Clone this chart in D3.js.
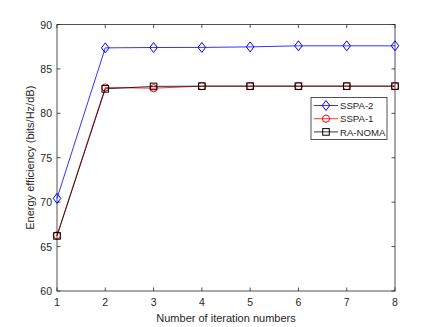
<!DOCTYPE html>
<html>
<head>
<meta charset="utf-8">
<script src="https://cdn.jsdelivr.net/npm/d3@7"></script>
<style>
  body { margin: 0; background: #fff; }
  text { font-family: "Liberation Sans", Arial, sans-serif; }
</style>
</head>
<body>
<svg id="chart" width="436" height="327"></svg>
<script>
// data
var iterations = [1, 2, 3, 4, 5, 6, 7, 8];
var sspa2 = [70.43, 87.37, 87.41, 87.42, 87.48, 87.6, 87.6, 87.6];
var sspa1 = [66.27, 82.91, 82.83, 83.06, 83.06, 83.06, 83.06, 83.06];
var raNoma = [66.2, 82.76, 83.03, 83.06, 83.06, 83.06, 83.06, 83.06];
var yTicks = [60, 65, 70, 75, 80, 85, 90];

var plotL = 57, plotR = 395, plotT = 24.5, plotB = 291;
var axisColor = "#262626";

var svg = d3.select("#chart");
var x = d3.scaleLinear().domain([1, 8]).range([plotL, plotR]);
var y = d3.scaleLinear().domain([60, 90]).range([plotB, plotT]);

// box
svg.append("rect")
  .attr("x", plotL).attr("y", plotT)
  .attr("width", plotR - plotL).attr("height", plotB - plotT)
  .attr("fill", "#fff").attr("stroke", axisColor).attr("stroke-width", 0.8);

// ticks inward, all four sides
var tl = 3.5;
function tickLines(data, f) {
  svg.selectAll(null).data(data).enter().append("line")
    .each(f).attr("stroke", axisColor).attr("stroke-width", 0.8);
}
tickLines(iterations, function(d) {
  d3.select(this).attr("x1", x(d)).attr("x2", x(d)).attr("y1", plotB).attr("y2", plotB - tl);
});
tickLines(iterations, function(d) {
  d3.select(this).attr("x1", x(d)).attr("x2", x(d)).attr("y1", plotT).attr("y2", plotT + tl);
});
tickLines(yTicks, function(d) {
  d3.select(this).attr("x1", plotL).attr("x2", plotL + tl).attr("y1", y(d)).attr("y2", y(d));
});
tickLines(yTicks, function(d) {
  d3.select(this).attr("x1", plotR).attr("x2", plotR - tl).attr("y1", y(d)).attr("y2", y(d));
});

// tick labels
svg.selectAll(".xl").data(iterations).enter().append("text")
  .attr("x", function(d) { return x(d); }).attr("y", plotB + 15)
  .attr("text-anchor", "middle").attr("font-size", 10.5).attr("fill", axisColor)
  .text(function(d) { return d; });
svg.selectAll(".yl").data(yTicks).enter().append("text")
  .attr("x", plotL - 5).attr("y", function(d) { return y(d) + 4; })
  .attr("text-anchor", "end").attr("font-size", 10.5).attr("fill", axisColor)
  .text(function(d) { return d; });

// axis titles
svg.append("text")
  .attr("x", (plotL + plotR) / 2).attr("y", 322)
  .attr("text-anchor", "middle").attr("font-size", 11).attr("fill", axisColor)
  .text("Number of iteration numbers");
svg.append("text")
  .attr("transform", "translate(34," + ((plotT + plotB) / 2) + ") rotate(-90)")
  .attr("text-anchor", "middle").attr("font-size", 11).attr("fill", axisColor)
  .text("Energy efficiency (bits/Hz/dB)");

var series = [
  { name: "SSPA-2", values: sspa2, color: "#0000ff", marker: "diamond" },
  { name: "SSPA-1", values: sspa1, color: "#ff0000", marker: "circle" },
  { name: "RA-NOMA", values: raNoma, color: "#000000", marker: "square" }
];

function drawMarker(g, type, cx, cy, color) {
  if (type == "diamond") {
    g.append("path").attr("d", "M" + cx + "," + (cy - 5) + "L" + (cx + 3.8) + "," + cy + "L" + cx + "," + (cy + 5) + "L" + (cx - 3.8) + "," + cy + "Z")
      .attr("fill", "none").attr("stroke", color).attr("stroke-width", 1);
  } else if (type == "circle") {
    g.append("circle").attr("cx", cx).attr("cy", cy).attr("r", 3.6)
      .attr("fill", "none").attr("stroke", color).attr("stroke-width", 1);
  } else {
    g.append("rect").attr("x", cx - 3.3).attr("y", cy - 3.3).attr("width", 6.6).attr("height", 6.6)
      .attr("fill", "none").attr("stroke", color).attr("stroke-width", 1);
  }
}

var line = d3.line().x(function(d, i) { return x(iterations[i]); }).y(function(d) { return y(d); });

series.forEach(function(s) {
  var g = svg.append("g");
  g.append("path").attr("d", line(s.values))
    .attr("fill", "none").attr("stroke", s.color).attr("stroke-width", 0.8);
  s.values.forEach(function(v, i) {
    drawMarker(g, s.marker, x(iterations[i]), y(v), s.color);
  });
});

// legend
var lx = 311, ly = 97.5, lw = 76, lh = 42;
var leg = svg.append("g");
leg.append("rect").attr("x", lx).attr("y", ly).attr("width", lw).attr("height", lh)
  .attr("fill", "#fff").attr("stroke", axisColor).attr("stroke-width", 0.8);
series.forEach(function(s, i) {
  var cy = ly + 8 + i * 13.2;
  leg.append("line").attr("x1", lx + 3).attr("x2", lx + 27).attr("y1", cy).attr("y2", cy)
    .attr("stroke", s.color).attr("stroke-width", 0.8);
  drawMarker(leg, s.marker, lx + 15, cy, s.color);
  leg.append("text").attr("x", lx + 29).attr("y", cy + 3.6)
    .attr("font-size", 9.6).attr("fill", axisColor).text(s.name);
});
</script>
</body>
</html>
